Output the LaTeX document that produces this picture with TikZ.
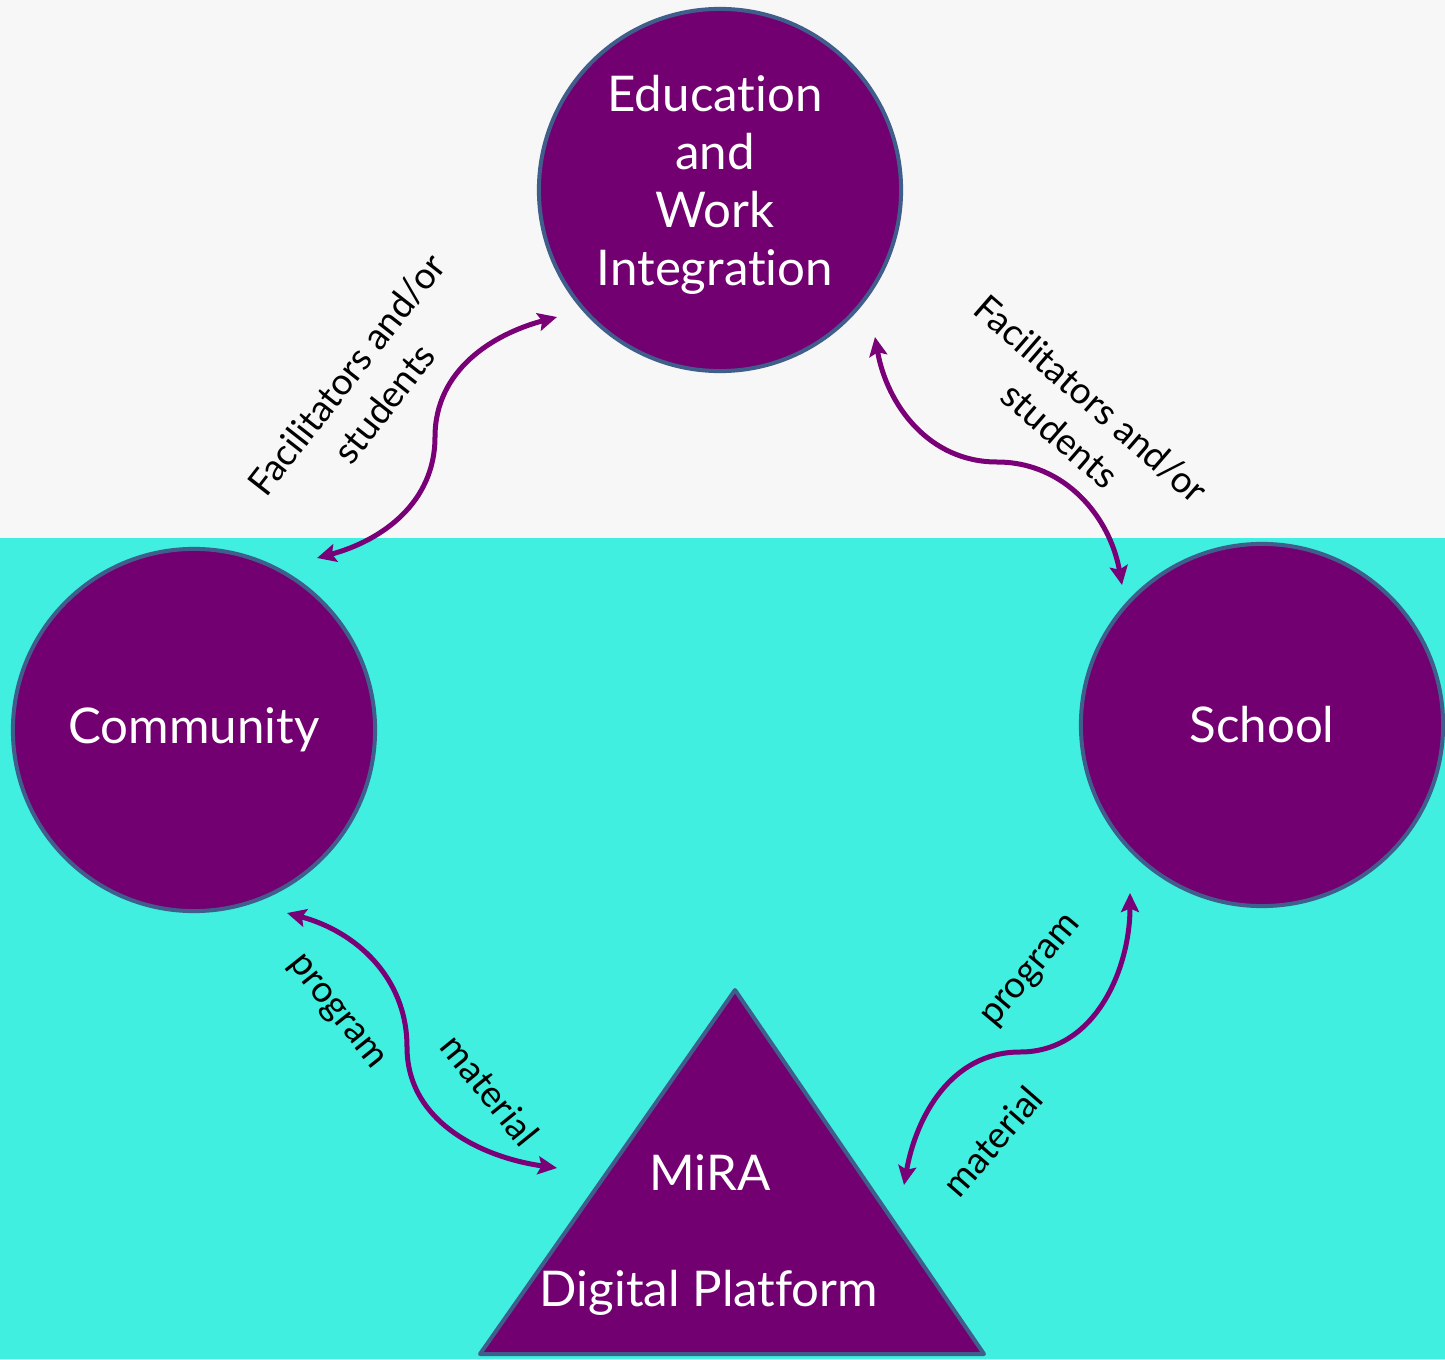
\documentclass[tikz,border=0pt]{standalone}
\usepackage{fontspec}
\setmainfont{Lato}[Ligatures=NoCommon]
\usetikzlibrary{arrows.meta}
\definecolor{miraviolet}{HTML}{730070}
\definecolor{miraedge}{HTML}{3F5E8C}
\definecolor{miraarrow}{HTML}{7A0077}
\definecolor{miraaqua}{HTML}{40EFE0}
\definecolor{miragray}{HTML}{F7F7F7}

\tikzset{
  hub/.style={circle, fill=miraviolet, draw=miraedge, line width=0.04cm, minimum size=3.62cm, inner sep=0pt, text=white, align=center, font=\fontsize{14}{16.5}\selectfont},
  linkarrow/.style={miraarrow, line width=0.05cm, <->, >={Stealth[length=0.19cm, width=0.18cm, inset=0.035cm]}},
  flowlabel/.style={font=\fontsize{10.5}{13.6}\selectfont, align=center, inner sep=0pt}
}

\begin{document}
\begin{tikzpicture}[x=0.01cm, y=0.01cm]
\useasboundingbox (0,0) rectangle (1445,1359);
% Background bands
\fill[miragray] (0,821) rectangle (1445,1359);
\fill[miraaqua] (0,0) rectangle (1445,821);

% Circles
\node[hub] (edu) at (720,1169) {};
\node[text=white, align=center, font=\fontsize{14}{16.5}\selectfont] (edutext) at (715,1174) {Education\\and\\Work\\Integration};
\node[hub] (comm) at (194,629) {Community};
\node[hub] (school) at (1262,634) {School};

% Triangle
\draw[fill=miraviolet, draw=miraedge, line width=0.04cm, line join=round] (735,369) -- (480,5) -- (984,5) -- cycle;
\node[text=white, font=\fontsize{14}{16.5}\selectfont] (mira) at (710,186) {MiRA};
\node[text=white, font=\fontsize{14}{16.5}\selectfont] (platform) at (709,66) {Digital Platform};

% Arrow ends
\coordinate (ce1) at (317,801);
\coordinate (ce2) at (435,922);
\coordinate (ce3) at (557,1042);
\coordinate (es1) at (875,1022);
\coordinate (es2) at (997,897);
\coordinate (es3) at (1122,774);
\coordinate (cm1) at (287,446);
\coordinate (cm2) at (407,312);
\coordinate (cm3) at (557,191);
\coordinate (ms1) at (904,174);
\coordinate (ms2) at (1020,307);
\coordinate (ms3) at (1130,466);

% Connect the shapes
\draw[linkarrow] (ce1) to[out=15, in=-90] (ce2) to[out=90, in=195] (ce3);
\draw[linkarrow] (es1) to[out=-80, in=180] (es2) to[out=0, in=100] (es3);
\draw[linkarrow] (cm1) to[out=-15, in=90] (cm2) to[out=-90, in=172] (cm3);
\draw[linkarrow] (ms1) to[out=80, in=180] (ms2) to[out=0, in=-90] (ms3);

% Labels
\node[flowlabel, rotate=52] (lab1) at (365,970) {Facilitators and/or\\students};
\node[flowlabel, rotate=-41] (lab2) at (1076,942) {Facilitators and/or\\students};
\foreach \name/\x/\y/\ang/\txt in {lab3/335/346/-51.5/program, lab4/490/269/-51/material, lab5/1033/387/50/program, lab6/992/218/49/material} {
    \node[flowlabel, rotate=\ang] (\name) at (\x,\y) {\txt};
}
\end{tikzpicture}
\end{document}
